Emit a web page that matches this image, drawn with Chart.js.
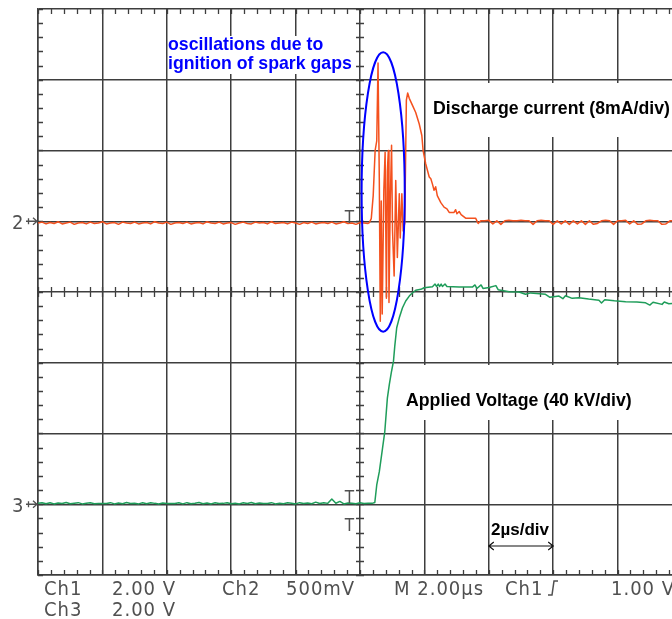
<!DOCTYPE html>
<html>
<head>
<meta charset="utf-8">
<script src="https://cdn.jsdelivr.net/npm/chart.js@4.4.1/dist/chart.umd.min.js"></script>
<style>
  html, body { margin: 0; padding: 0; background: #ffffff; overflow: hidden; width: 672px; height: 619px; }
  #wrap { width: 672px; height: 619px; overflow: hidden; position: relative; }
  canvas { display: block; }
</style>
</head>
<body>
<div id="wrap"><canvas id="scope" width="700" height="619"></canvas></div>
<script>
// ---------------------------------------------------------------
// Oscilloscope capture: spark-gap ignition, discharge current (Ch2)
// and applied voltage (Ch3). Time base 2 µs/div, trigger at t = 0.
// ---------------------------------------------------------------

// Screen ranges (10 x 8 divisions)
const timeRangeUs   = [-10, 10];    // 2 µs/div
const currentRangeMa = [-40, 24];   // 8 mA/div, Ch2 ground 3 div below top
const voltageRangeKv = [-40, 280];  // 40 kV/div, Ch3 ground 1 div above bottom

// Ch2 – discharge current (mA)
// pre-trigger baseline, sampled every 0.125 µs from -10 µs
const ch2SampleStepUs = 0.125;
const ch2PreStartUs = -10;
const ch2PreTriggerMa = [
  -0.2,-0.1,-0.3,-0.15,-0.25,-0.05,-0.3,-0.2,-0.1,-0.35,
  -0.2,-0.15,-0.3,-0.1,-0.25,-0.2,-0.05,-0.3,-0.2,-0.15,
  -0.35,-0.1,-0.2,-0.25,-0.1,-0.3,-0.2,-0.15,-0.3,-0.05,
  -0.2,-0.25,-0.1,-0.35,-0.2,-0.15,-0.25,-0.1,-0.3,-0.2,
  -0.15,-0.3,-0.05,-0.2,-0.25,-0.1,-0.3,-0.2,-0.15,-0.35,
  -0.2,-0.1,-0.25,-0.3,-0.1,-0.2,-0.15,-0.3,-0.05,-0.25,
  -0.2,-0.15,-0.3,-0.1,-0.2,-0.35,-0.15,-0.25,-0.1,-0.3,
  -0.2,-0.15,-0.25,-0.1,-0.3,-0.2,-0.05,-0.25,-0.2,-0.35,
  -0.15,-0.2,-0.25
];
// ignition oscillations and discharge pulse
const ch2EventTimeUs = [
  0.29, 0.35, 0.41, 0.47, 0.52, 0.56, 0.60, 0.63, 0.66, 0.69,
  0.74, 0.78, 0.82, 0.85, 0.88, 0.90, 0.94, 0.98, 1.01, 1.06,
  1.11, 1.16, 1.22, 1.25, 1.30, 1.34, 1.39, 1.44, 1.48, 1.53,
  1.63, 1.73, 1.84, 1.92, 1.96, 2.04, 2.15, 2.20, 2.25, 2.30,
  2.35, 2.40, 2.51, 2.61, 2.70, 2.77, 2.92, 2.97, 3.01, 3.08,
  3.14, 3.28, 3.59, 3.67, 3.75
];
const ch2EventMa = [
  -0.15, 0.3, 2.9, 8.0, 9.1, 17.9, 4.6, -11.3, 2.3, -10.5,
  3.5, 7.8, -8.7, 5.7, 8.0, -9.2, 2.3, 8.6, -1.1, -6.2,
  4.6, -4.1, 3.1, -1.9, 3.1, -1.1, -0.2, 13.7, 14.5, 13.9,
  13.1, 12.3, 11.0, 9.7, 8.0, 6.5, 5.0, 4.8, 4.2, 3.5,
  3.9, 2.9, 2.1, 1.6, 1.4, 1.0, 1.0, 1.3, 0.85, 1.1,
  0.75, 0.35, 0.35, -0.25, 0.05
];
// post-pulse baseline, sampled every 0.125 µs from 3.875 µs
const ch2PostStartUs = 3.875;
const ch2PostEventMa = [
  0.05, 0.1, -0.3, 0.05, -0.35, 0.05, 0.1, 0.05, 0.05, 0.1,
  0.05, 0.05, -0.35, 0.05, 0.1, 0.05, 0.05, -0.35, 0.05, -0.3,
  0.05, -0.35, 0.05, -0.3, 0.05, -0.35, 0.05, -0.35, -0.25, 0.05,
  0.1, 0.05, -0.35, 0.05, 0.05, 0.1, -0.3, 0.05, -0.35, -0.3,
  0.05, 0.1, 0.05, 0.05, -0.35, -0.3, 0.05, 0.05, 0.1, 0.05
];

// Ch3 – applied voltage (kV)
// pre-trigger baseline, sampled every 0.125 µs from -10 µs
const ch3SampleStepUs = 0.125;
const ch3PreStartUs = -10;
const ch3PreTriggerKv = [
  0.5,0.9,0.3,0.8,0.2,0.7,0.4,1.0,0.3,0.6,
  0.9,0.2,0.5,0.8,0.3,0.4,0.4,0.4,0.9,0.2,
  0.7,0.3,1.0,0.4,0.6,0.2,0.8,0.3,0.9,0.5,
  0.2,0.7,0.4,0.4,0.4,0.8,0.2,0.9,0.3,0.6,
  1.0,0.3,0.7,0.2,0.8,0.4,0.5,0.9,0.3,0.6,
  0.2,0.8,0.4,1.0,0.3,0.7,0.4,0.4,0.9,0.2,
  0.6,0.3,0.8,0.5,0.2,0.9,0.4,0.7,0.3,1.2,
  0.4,0.9,0.5,3.0,0.6,1.6,0.2,0.7,0.5,0.3,
  0.8,0.4,0.6,0.5
];
// rise and plateau
const ch3EventTimeUs = [
  0.46, 0.52, 0.60, 0.70, 0.77, 0.85, 0.91, 0.98, 1.04, 1.08,
  1.14, 1.22, 1.32, 1.42, 1.53, 1.60, 1.73, 1.89, 1.99, 2.25,
  2.33, 2.38, 2.43, 2.47, 2.52, 2.56, 2.64, 2.70, 3.08, 3.49,
  3.57, 3.63, 3.76, 3.82, 4.01, 4.22, 4.29, 4.63, 4.94, 5.14,
  5.30, 5.76, 5.90, 6.18, 6.30, 6.38, 6.59, 6.80, 7.10, 7.42,
  7.50, 7.60, 7.90, 8.25, 8.60, 8.87, 9.00, 9.10, 9.38, 9.45,
  9.59, 9.80, 10.0
];
const ch3EventKv = [
  1.0, 10.9, 18.4, 31.7, 41.1, 60.0, 67.6, 75.2, 80.9, 89.4,
  99.8, 105.4, 111.1, 114.9, 117.7, 119.0, 121.0, 121.5, 122.4, 123.0,
  124.5, 123.1, 124.5, 123.1, 124.5, 123.1, 124.5, 123.1, 122.8, 122.8,
  124.0, 122.0, 124.0, 122.0, 122.5, 123.6, 121.3, 120.2, 120.0, 118.7,
  119.5, 118.7, 117.0, 117.7, 116.2, 117.9, 116.4, 116.8, 116.0, 115.3,
  113.8, 115.6, 115.0, 114.5, 114.3, 113.9, 112.6, 114.2, 113.0, 114.3,
  113.4, 113.6, 113.2
];

// Highlighted ignition region (centre time / current, half extents)
const ignitionMark = { tUs: 0.72, mA: 3.3, halfUs: 0.67, halfMa: 15.8 };

// On-screen readouts
const readoutRow1 = ['Ch1', '2.00 V', 'Ch2', '500mV', 'M 2.00µs', 'Ch1', '1.00 V'];
const readoutRow2 = ['Ch3', '2.00 V'];
const annotationOscillation = ['oscillations due to', 'ignition of spark gaps'];
const annotationCurrent = 'Discharge current (8mA/div)';
const annotationVoltage = 'Applied Voltage (40 kV/div)';
const annotationTimebase = '2µs/div';

// ---------------------------------------------------------------
const sampled = (start, step, values) => values.map((v, i) => ({ x: start + i * step, y: v }));
const paired = (times, values) => times.map((t, i) => ({ x: t, y: values[i] }));

const ch2Points = [
  ...sampled(ch2PreStartUs, ch2SampleStepUs, ch2PreTriggerMa),
  ...paired(ch2EventTimeUs, ch2EventMa),
  ...sampled(ch2PostStartUs, ch2SampleStepUs, ch2PostEventMa)
];
const ch3Points = [
  ...sampled(ch3PreStartUs, ch3SampleStepUs, ch3PreTriggerKv),
  ...paired(ch3EventTimeUs, ch3EventKv)
];

const GRID = '#3e3e3e';
const READOUT = '#505050';
const TEXT_FONT = '"Liberation Sans", Arial, sans-serif';
const SCOPE_FONT = '"DejaVu Sans Condensed", "DejaVu Sans", sans-serif';

function textAt(ctx, str, x, y, font, color, spacing) {
  ctx.save();
  ctx.font = font;
  ctx.fillStyle = color;
  ctx.textBaseline = 'alphabetic';
  ctx.textAlign = 'left';
  if (spacing) ctx.letterSpacing = spacing;
  ctx.fillText(str, x, y);
  ctx.restore();
}

const scopeOverlay = {
  id: 'scopeOverlay',
  beforeDraw(chart) {
    const ctx = chart.ctx;
    ctx.save();
    ctx.fillStyle = '#ffffff';
    ctx.fillRect(0, 0, chart.width, chart.height);
    ctx.restore();
  },
  beforeDatasetsDraw(chart) {
    const { ctx, chartArea: a, scales } = chart;
    const xs = scales.x, yi = scales.yI;
    const cx = xs.getPixelForValue(0);
    const cy = yi.getPixelForValue((currentRangeMa[0] + currentRangeMa[1]) / 2);
    ctx.save();
    ctx.strokeStyle = GRID;
    ctx.lineWidth = 1.3;
    ctx.beginPath();
    // minor divisions along time (5 per division)
    for (let t = timeRangeUs[0]; t <= timeRangeUs[1] + 1e-6; t += 0.4) {
      const px = Math.round(xs.getPixelForValue(t)) + 0.5;
      ctx.moveTo(px, a.top); ctx.lineTo(px, a.top + 5);
      ctx.moveTo(px, a.bottom); ctx.lineTo(px, a.bottom - 5);
      ctx.moveTo(px, cy - 5); ctx.lineTo(px, cy + 5);
    }
    // minor divisions along amplitude
    for (let v = currentRangeMa[0]; v <= currentRangeMa[1] + 1e-6; v += 1.6) {
      const py = Math.round(yi.getPixelForValue(v)) + 0.5;
      ctx.moveTo(a.left, py); ctx.lineTo(a.left + 5, py);
      ctx.moveTo(cx - 4, py); ctx.lineTo(cx + 4, py);
    }
    ctx.stroke();

    // white label backgrounds
    ctx.fillStyle = '#ffffff';
    ctx.fillRect(168, 36, 187, 38);
    ctx.fillRect(428, 83, 260, 54);
    ctx.fillRect(400, 365, 240, 55);
    ctx.restore();
  },
  afterDatasetsDraw(chart) {
    const { ctx, scales } = chart;
    const xs = scales.x, yi = scales.yI, yv = scales.yV;

    // ignition ellipse
    const ex = xs.getPixelForValue(ignitionMark.tUs);
    const ey = yi.getPixelForValue(ignitionMark.mA);
    const rx = xs.getPixelForValue(ignitionMark.tUs + ignitionMark.halfUs) - ex;
    const ry = ey - yi.getPixelForValue(ignitionMark.mA + ignitionMark.halfMa);
    ctx.save();
    ctx.strokeStyle = '#0000ff';
    ctx.lineWidth = 2;
    ctx.beginPath();
    ctx.ellipse(ex, ey, rx, ry, 0, 0, Math.PI * 2);
    ctx.stroke();
    ctx.restore();

    // annotations
    const bold = 'bold 17.7px ' + TEXT_FONT;
    textAt(ctx, annotationOscillation[0], 168, 50, bold, '#0000ff');
    textAt(ctx, annotationOscillation[1], 168, 69, bold, '#0000ff');
    textAt(ctx, annotationCurrent, 433, 114, bold, '#000000');
    textAt(ctx, annotationVoltage, 406, 406, bold, '#000000');
    textAt(ctx, annotationTimebase, 491, 535, 'bold 17px ' + TEXT_FONT, '#000000');

    // 2 µs/div span arrow
    const ax0 = xs.getPixelForValue(4), ax1 = xs.getPixelForValue(6), ay = 546;
    ctx.save();
    ctx.strokeStyle = '#111111';
    ctx.lineWidth = 1.2;
    ctx.beginPath();
    ctx.moveTo(ax0, ay); ctx.lineTo(ax1, ay);
    ctx.moveTo(ax0 + 5, ay - 4); ctx.lineTo(ax0, ay); ctx.lineTo(ax0 + 5, ay + 4);
    ctx.moveTo(ax1 - 5, ay - 4); ctx.lineTo(ax1, ay); ctx.lineTo(ax1 - 5, ay + 4);
    ctx.stroke();
    ctx.restore();

    // channel ground markers
    const g2 = yi.getPixelForValue(0);
    const g3 = yv.getPixelForValue(0);
    const markFont = '20px ' + SCOPE_FONT;
    [[ '2', g2 ], [ '3', g3 ]].forEach(([lab, gy]) => {
      textAt(ctx, lab, 12, gy + 8, markFont, READOUT);
      ctx.save();
      ctx.strokeStyle = READOUT;
      ctx.lineWidth = 1.3;
      ctx.beginPath();
      ctx.moveTo(26, gy); ctx.lineTo(37, gy);
      ctx.moveTo(33, gy - 3.5); ctx.lineTo(37, gy); ctx.lineTo(33, gy + 3.5);
      ctx.moveTo(28.5, gy - 3); ctx.lineTo(28.5, gy + 3);
      ctx.stroke();
      ctx.restore();
    });

    // trigger level markers
    const tFont = '17px ' + SCOPE_FONT;
    const tx = xs.getPixelForValue(-0.47);
    textAt(ctx, 'T', tx, g2 + 2, tFont, READOUT);
    textAt(ctx, 'T', tx, g3 - 1, tFont, READOUT);
    textAt(ctx, 'T', tx, g3 + 27, tFont, READOUT);

    // readouts along the bottom
    const rowFont = '20px ' + SCOPE_FONT;
    const row1X = [44, 112, 222, 286, 394, 505, 611];
    readoutRow1.forEach((s, i) => textAt(ctx, s, row1X[i], 595, rowFont, READOUT, '1px'));
    const row2X = [44, 112];
    readoutRow2.forEach((s, i) => textAt(ctx, s, row2X[i], 616, rowFont, READOUT, '1px'));
    // trigger slope symbol
    ctx.save();
    ctx.strokeStyle = READOUT;
    ctx.lineWidth = 1.5;
    ctx.beginPath();
    ctx.moveTo(548, 595); ctx.lineTo(552, 595); ctx.lineTo(554, 581); ctx.lineTo(558, 581);
    ctx.stroke();
    ctx.restore();
  }
};

new Chart(document.getElementById('scope'), {
  type: 'line',
  data: {
    datasets: [
      {
        label: 'Ch2 discharge current',
        data: ch2Points,
        yAxisID: 'yI',
        borderColor: '#f4511e',
        borderWidth: 1.5,
        borderJoinStyle: 'round',
        pointRadius: 0,
        tension: 0,
        fill: false
      },
      {
        label: 'Ch3 applied voltage',
        data: ch3Points,
        yAxisID: 'yV',
        borderColor: '#1f9d5a',
        borderWidth: 1.5,
        borderJoinStyle: 'round',
        pointRadius: 0,
        tension: 0,
        fill: false
      }
    ]
  },
  options: {
    responsive: false,
    animation: false,
    devicePixelRatio: 1,
    layout: { padding: { left: 38, top: 9, right: 18, bottom: 44 } },
    plugins: { legend: { display: false }, tooltip: { enabled: false } },
    scales: {
      x: {
        type: 'linear',
        min: timeRangeUs[0], max: timeRangeUs[1],
        ticks: { display: false, stepSize: 2 },
        grid: { color: GRID, lineWidth: 1.5, drawTicks: false },
        border: { display: true, color: GRID, width: 1.5 }
      },
      yI: {
        type: 'linear', position: 'left',
        min: currentRangeMa[0], max: currentRangeMa[1],
        ticks: { display: false, stepSize: 8 },
        grid: { color: GRID, lineWidth: 1.5, drawTicks: false },
        border: { display: true, color: GRID, width: 1.5 }
      },
      yV: {
        type: 'linear', position: 'left', display: false,
        min: voltageRangeKv[0], max: voltageRangeKv[1]
      }
    }
  },
  plugins: [scopeOverlay]
});
</script>
</body>
</html>
